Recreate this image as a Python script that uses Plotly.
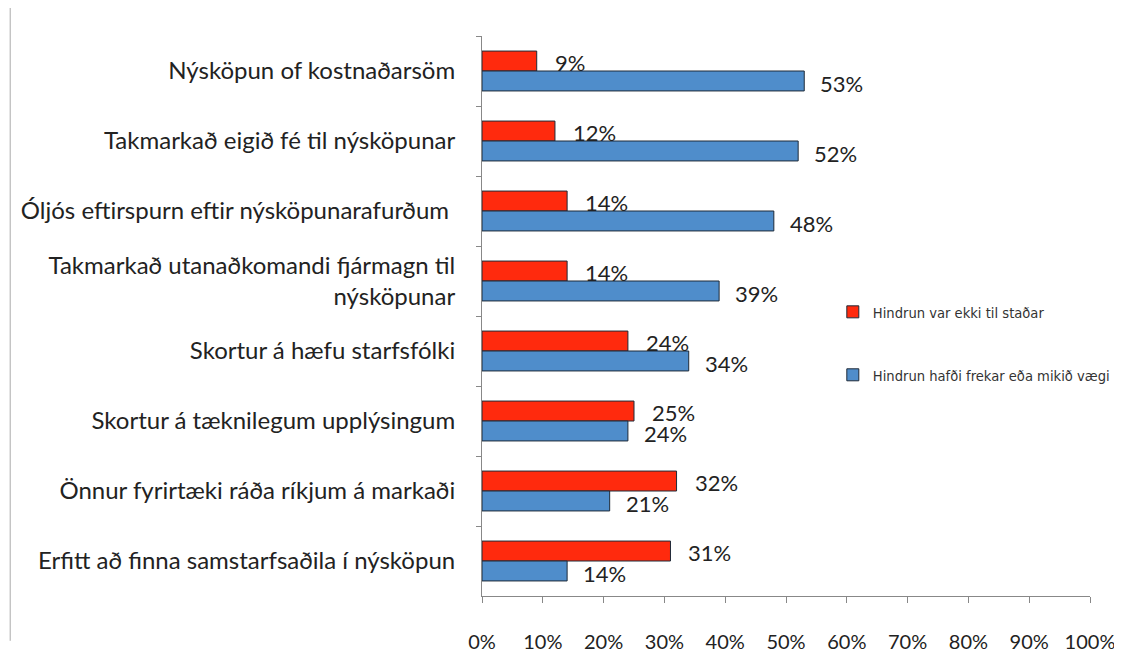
import plotly.graph_objects as go

categories = [
    "Nýsköpun of kostnaðarsöm",
    "Takmarkað eigið fé til nýsköpunar",
    "Óljós eftirspurn eftir nýsköpunarafurðum ",
    "Takmarkað utanaðkomandi fjármagn til<br>nýsköpunar",
    "Skortur á hæfu starfsfólki",
    "Skortur á tæknilegum upplýsingum",
    "Önnur fyrirtæki ráða ríkjum á markaði",
    "Erfitt að finna samstarfsaðila í nýsköpun",
]
red_vals = [9, 12, 14, 14, 24, 25, 32, 31]
blue_vals = [53, 52, 48, 39, 34, 24, 21, 14]
series_names = ["Hindrun var ekki til staðar", "Hindrun hafði frekar eða mikið vægi"]
x_ticks = [0, 10, 20, 30, 40, 50, 60, 70, 80, 90, 100]

RED = "#FF2A0D"
BLUE = "#4F8DCB"
EDGE = "#1E2A38"
FONT = "Lato"

fig = go.Figure()
fig.add_trace(go.Bar(y=categories, x=red_vals, orientation="h", name=series_names[0],
                     marker=dict(color=RED, line=dict(color=EDGE, width=1)), legendgroup="a"))
fig.add_trace(go.Bar(y=categories, x=blue_vals, orientation="h", name=series_names[1],
                     marker=dict(color=BLUE, line=dict(color=EDGE, width=1)), legendgroup="b"))

annotations = []
for c, v in zip(categories, red_vals):
    annotations.append(dict(x=v, y=c, text=f"{v}%", xanchor="left", yanchor="middle",
                            xshift=16, yshift=9, showarrow=False,
                            font=dict(size=22, color="#222222", family=FONT)))
for c, v in zip(categories, blue_vals):
    annotations.append(dict(x=v, y=c, text=f"{v}%", xanchor="left", yanchor="middle",
                            xshift=14, yshift=-12, showarrow=False,
                            font=dict(size=22, color="#222222", family=FONT)))

fig.update_layout(
    width=1122, height=655,
    margin=dict(l=474, r=40, t=28, b=67, autoexpand=False),
    paper_bgcolor="white", plot_bgcolor="white",
    barmode="group", bargap=0.43, bargroupgap=0,
    font=dict(family=FONT, size=16, color="#222222"),
    annotations=annotations,
    showlegend=True,
    legend=dict(x=0.577, y=0.536, xanchor="left", yanchor="top",
                font=dict(family="Liberation Sans Narrow, DejaVu Sans Condensed, Liberation Sans",
                          size=14.6, color="#333333"),
                tracegroupgap=41, itemwidth=30, bgcolor="rgba(0,0,0,0)"),
    shapes=[dict(type="line", xref="paper", yref="paper", x0=-0.776, x1=-0.776, y0=-0.08, y1=1.065,
                 line=dict(color="#AAAAAA", width=1))],
)
fig.update_xaxes(range=[0, 100], tickvals=x_ticks, ticktext=[f"{t}%" for t in x_ticks],
                 showgrid=False, zeroline=False, showline=True, linecolor="#888888", linewidth=1,
                 ticks="outside", ticklen=6, tickcolor="#888888", ticklabelstandoff=22,
                 tickfont=dict(size=20, family=FONT, color="#222222"), fixedrange=True)
fig.update_yaxes(autorange="reversed", showgrid=False, showline=True, linecolor="#888888", linewidth=1,
                 ticks="outside", ticklen=5, tickcolor="#888888", tickson="boundaries",
                 ticklabelstandoff=21,
                 tickfont=dict(size=24, family=FONT, color="#222222"))

fig.write_html("out.html")
